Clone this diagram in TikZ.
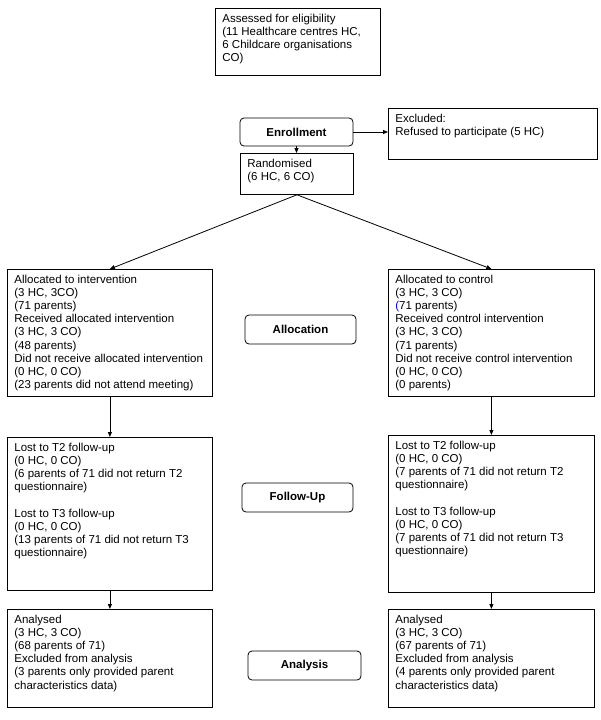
\documentclass[tikz,border=0pt]{standalone}
\usepackage{fontspec}
\setmainfont{Liberation Sans}
\usetikzlibrary{arrows.meta}
\newcommand\cbox[6]{%
  \pgfmathsetlengthmacro\bw{(#4)-(#2)-14}%
  \pgfmathsetlengthmacro\bh{(#5)-(#3)-10}%
  \node[flowbox] (#1) at (#2,#3) {\parbox[t][\bh][t]{\bw}{\begin{tabular}[t]{@{}l@{}}#6\end{tabular}}};}
\begin{document}
\begin{tikzpicture}[x=1pt,y=-1pt,
  flowbox/.style={draw, line width=0.8pt, anchor=north west, inner xsep=7pt, inner ysep=5pt,
    font=\fontsize{11.5}{13.1}\selectfont},
  stage/.style={draw, line width=0.8pt, rounded corners=4pt, inner sep=0pt,
    font=\fontsize{11.5}{13.1}\selectfont\bfseries},
  arr/.style={line width=0.8pt, -{Triangle[length=5pt,width=4pt]}}]
\useasboundingbox (0,0) rectangle (600,720);
\fill[white] (0,0) rectangle (600,720);

\cbox{assess}{215}{8}{380}{75}{Assessed for eligibility\\(11 Healthcare centres HC,\\6 Childcare organisations\\CO)}
\node[stage, minimum width=113pt, minimum height=28pt] (enroll) at (296.5,132) {Enrollment};
\cbox{excl}{388}{108}{597}{159}{Excluded:\\Refused to participate (5 HC)}
\cbox{rand}{240}{153}{353}{194}{Randomised\\(6 HC, 6 CO)}

\cbox{interv}{7}{269}{212}{396}{Allocated to intervention\\(3 HC, 3CO)\\(71 parents)\\Received allocated intervention\\(3 HC, 3 CO)\\(48 parents)\\Did not receive allocated intervention\\(0 HC, 0 CO)\\(23 parents did not attend meeting)}
\cbox{control}{388}{269}{594}{396}{Allocated to control\\(3 HC, 3 CO)\\\textcolor{blue}{(}71 parents)\\Received control intervention\\(3 HC, 3 CO)\\(71 parents)\\Did not receive control intervention\\(0 HC, 0 CO)\\(0 parents)}
\node[stage, minimum width=111pt, minimum height=29pt] (alloc) at (300.5,329.5) {Allocation};

\cbox{lostL}{7}{437}{212}{590}{Lost to T2 follow-up\\(0 HC, 0 CO)\\(6 parents of 71 did not return T2\\questionnaire)\\~\\Lost to T3 follow-up\\(0 HC, 0 CO)\\(13 parents of 71 did not return T3\\questionnaire)}
\cbox{lostR}{388}{435}{594}{592}{Lost to T2 follow-up\\(0 HC, 0 CO)\\(7 parents of 71 did not return T2\\questionnaire)\\~\\Lost to T3 follow-up\\(0 HC, 0 CO)\\(7 parents of 71 did not return T3\\questionnaire)}
\node[stage, minimum width=111pt, minimum height=29pt] (follow) at (297.5,497.5) {Follow-Up};

\cbox{anaL}{7}{609}{212}{707}{Analysed\\(3 HC, 3 CO)\\(68 parents of 71)\\Excluded from analysis\\(3 parents only provided parent\\characteristics data)}
\cbox{anaR}{388}{609}{594}{707}{Analysed\\(3 HC, 3 CO)\\(67 parents of 71)\\Excluded from analysis\\(4 parents only provided parent\\characteristics data)}
\node[stage, minimum width=113pt, minimum height=29pt] (analysis) at (304.5,665.5) {Analysis};

\draw[arr] (enroll.east) -- (excl.west |- enroll.east);
\draw[arr] (enroll.south) -- (rand.north -| enroll.south);
\draw[arr] (rand.south) -- (interv.north);
\draw[arr] (rand.south) -- (control.north);
\draw[arr] (interv.south) -- (lostL.north);
\draw[arr] (control.south) -- (lostR.north);
\draw[arr] (lostL.south) -- (anaL.north);
\draw[arr] (lostR.south) -- (anaR.north);
\end{tikzpicture}
\end{document}
